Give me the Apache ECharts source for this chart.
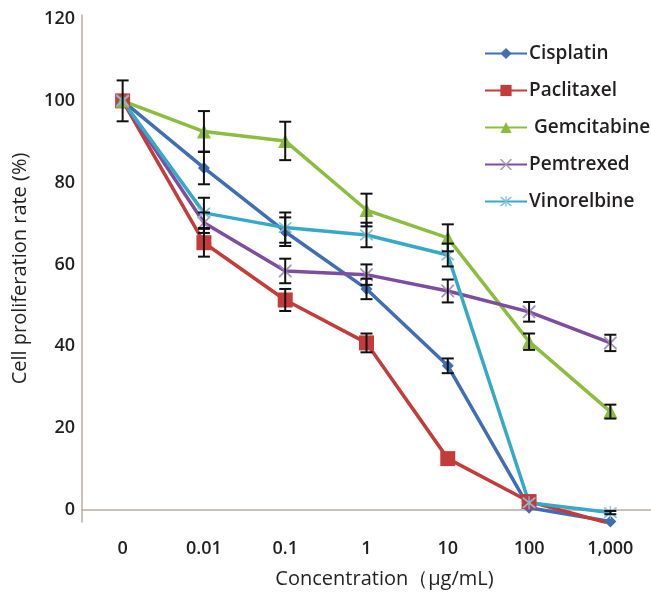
<!DOCTYPE html>
<html>
<head>
<meta charset="utf-8">
<script src="https://cdn.jsdelivr.net/npm/echarts@6/dist/echarts.min.js"></script>
<style>
    html, body {margin: 0; padding: 0; background: #fff;}
    #main {width: 651px; height: 595px;}
</style>
</head>
<body>
<div id="main"></div>
<script>
    // 浓度分类
    var categories = ['0', '0.01', '0.1', '1', '10', '100', '1,000'];
    var yTicks = [0, 20, 40, 60, 80, 100, 120];

    var cisplatin   = [100, 83.6, 68.0, 54.0, 35.2, 0.5, -2.9];
    var paclitaxel  = [100, 65.3, 51.3, 40.8, 12.5, 2.0, -3.4];
    var gemcitabine = [100, 92.5, 90.2, 73.3, 66.5, 41.1, 24.0];
    var pemetrexed  = [100, 70.2, 58.4, 57.5, 53.5, 48.4, 40.8];
    var vinorelbine = [100, 72.6, 69.0, 67.2, 62.3, 1.7, -0.7];

    // 误差 (±)，null = 不画
    var cisplatinErr   = [null, 4.0, 3.5, 2.5, 1.8, null, null];
    var paclitaxelErr  = [null, 3.4, 2.7, 2.3, null, null, null];
    var gemcitabineErr = [5.0, 5.0, 4.7, 4.0, 3.3, 2.0, 1.7];
    var pemetrexedErr  = [null, 2.5, 3.0, 2.5, 2.8, 2.4, 2.0];
    var vinorelbineErr = [null, 3.7, 3.7, 3.0, 2.8, null, 0.4];

    var colors = {
        cis: '#3F6EB5',
        pac: '#C43C3A',
        gem: '#8DBD3F',
        pem: '#7D4EA0',
        vin: '#36A9C9'
    };

    var crossPath = 'path://M0,0 L2,0 L10,8 L18,0 L20,0 L20,2 L12,10 L20,18 L20,20 L18,20 L10,12 L2,20 L0,20 L0,18 L8,10 L0,2 Z';
    var starPath = 'path://M0,0 L2,0 L10,8 L18,0 L20,0 L20,2 L12,10 L20,18 L20,20 L18,20 L10,12 L2,20 L0,20 L0,18 L8,10 L0,2 Z M9,-2 L11,-2 L11,22 L9,22 Z';

    function errData(values, errs) {
        var out = [];
        for (var i = 0; i < values.length; i++) {
            if (errs[i] != null) {
                out.push([i, values[i] - errs[i], values[i] + errs[i]]);
            }
        }
        return out;
    }

    var allErr = []
        .concat(errData(cisplatin, cisplatinErr))
        .concat(errData(paclitaxel, paclitaxelErr))
        .concat(errData(gemcitabine, gemcitabineErr))
        .concat(errData(pemetrexed, pemetrexedErr))
        .concat(errData(vinorelbine, vinorelbineErr));

    function lineSeries(name, data, color, symbol, size, symColor) {
        return {
            name: name,
            type: 'line',
            data: data,
            symbol: symbol,
            symbolSize: size,
            showAllSymbol: true,
            lineStyle: {color: color, width: 3.5},
            itemStyle: {color: symColor || color, opacity: 1},
            emphasis: {disabled: true},
            z: 3
        };
    }

    var chart = echarts.init(document.getElementById('main'));

    var textColor = '#231f20';
    var fontFam = '"Open Sans", "Noto Sans", sans-serif';

    var option = {
        animation: false,
        textStyle: {fontFamily: fontFam},
        grid: {left: 82, right: 0, top: 15, bottom: 73},
        legend: {
            orient: 'vertical',
            left: 479,
            top: 39,
            itemWidth: 42,
            itemHeight: 14,
            itemGap: 18,
            textStyle: {color: textColor, fontSize: 19, fontWeight: 600, fontFamily: fontFam, padding: [0, 0, 0, -3]},
            data: ['Cisplatin', 'Paclitaxel', ' Gemcitabine', 'Pemtrexed', 'Vinorelbine']
        },
        xAxis: {
            type: 'category',
            data: categories,
            boundaryGap: true,
            name: 'Concentration（\u03bcg/mL)',
            nameLocation: 'middle',
            nameGap: 47,
            nameTextStyle: {color: textColor, fontSize: 20, padding: [0, 0, 0, 36]},
            axisLine: {lineStyle: {color: '#b8aca6', width: 1.5}},
            axisTick: {show: false},
            axisLabel: {color: textColor, fontSize: 18, fontWeight: 600, margin: 18}
        },
        yAxis: {
            type: 'value',
            min: -3,
            max: 121,
            name: 'Cell proliferation rate (%)',
            nameLocation: 'middle',
            nameGap: 52,
            nameTextStyle: {color: textColor, fontSize: 20},
            axisLine: {show: true, lineStyle: {color: '#b8aca6', width: 1.5}},
            axisTick: {show: false},
            splitLine: {show: false},
            axisLabel: {
                color: textColor,
                fontSize: 18,
                fontWeight: 600,
                margin: 7,
                customValues: yTicks
            }
        },
        series: [
            lineSeries('Cisplatin', cisplatin, colors.cis, 'diamond', 12),
            lineSeries('Paclitaxel', paclitaxel, colors.pac, 'rect', 15),
            lineSeries(' Gemcitabine', gemcitabine, colors.gem, 'triangle', 14),
            lineSeries('Pemtrexed', pemetrexed, colors.pem, crossPath, 13, '#a894bd'),
            lineSeries('Vinorelbine', vinorelbine, colors.vin, starPath, 13, '#7cc3d8'),
            {
                type: 'custom',
                name: 'err',
                data: allErr,
                encode: {x: 0, y: [1, 2]},
                z: 10,
                silent: true,
                renderItem: function (params, api) {
                    var x = api.value(0);
                    var lo = api.coord([x, api.value(1)]);
                    var hi = api.coord([x, api.value(2)]);
                    var cap = 6;
                    var st = {stroke: '#111', lineWidth: 2};
                    return {
                        type: 'group',
                        children: [
                            {type: 'line', shape: {x1: lo[0], y1: lo[1], x2: hi[0], y2: hi[1]}, style: st},
                            {type: 'line', shape: {x1: lo[0] - cap, y1: lo[1], x2: lo[0] + cap, y2: lo[1]}, style: st},
                            {type: 'line', shape: {x1: hi[0] - cap, y1: hi[1], x2: hi[0] + cap, y2: hi[1]}, style: st}
                        ]
                    };
                }
            }
        ]
    };

    chart.setOption(option);
</script>
</body>
</html>
